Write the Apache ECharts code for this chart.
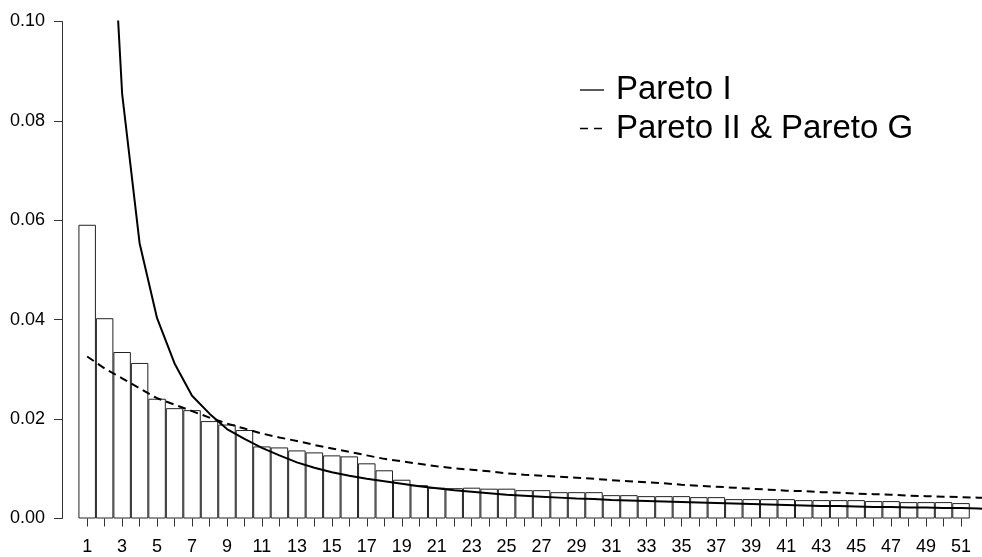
<!DOCTYPE html>
<html>
<head>
<meta charset="utf-8">
<script src="https://cdn.jsdelivr.net/npm/echarts@6/dist/echarts.min.js"></script>
<style>
  html, body { margin: 0; padding: 0; background: #fff; }
  #chart { width: 982px; height: 557px; }
</style>
</head>
<body>
<div id="chart"></div>
<script>
// Rank positions of the observed frequencies
const ranks = [1,2,3,4,5,6,7,8,9,10,11,12,13,14,15,16,17,18,19,20,21,22,23,24,25,26,
  27,28,29,30,31,32,33,34,35,36,37,38,39,40,41,42,43,44,45,46,47,48,49,50,51];

// Observed relative frequency per rank
const observed = [0.0591,0.0403,0.0335,0.0313,0.0241,0.0222,0.0218,0.0196,0.0189,0.0178,
  0.0145,0.0143,0.0137,0.0133,0.0127,0.0125,0.0111,0.0097,0.0078,0.0067,
  0.0062,0.0061,0.0062,0.0060,0.0060,0.0057,0.0057,0.0053,0.0053,0.0053,
  0.0047,0.0047,0.0045,0.0045,0.0045,0.0043,0.0043,0.0039,0.0039,0.0039,
  0.0039,0.0037,0.0037,0.0037,0.0037,0.0035,0.0035,0.0033,0.0033,0.0033,0.0031];

// Ranks at which the fitted curves are evaluated
const curveRanks = [1,2,3,4,5,6,7,8,9,10,11,12,13,14,15,16,17,18,19,20,21,22,23,24,25,26,
  27,28,29,30,31,32,33,34,35,36,37,38,39,40,41,42,43,44,45,46,47,48,49,50,51,52,53];

// Fitted Pareto I probabilities (rank 1 lies far above the plotted range)
const paretoI = [null,0.150,0.0855,0.0554,0.0403,0.0312,0.0247,0.0211,0.0180,0.0160,
  0.0142,0.0127,0.0113,0.0102,0.0093,0.0086,0.0080,0.0075,0.0070,0.0065,
  0.0061,0.0057,0.0054,0.0051,0.0048,0.0046,0.0044,0.0042,0.0040,0.0039,
  0.0037,0.0036,0.0035,0.0034,0.0033,0.0032,0.0031,0.0030,0.0029,0.0028,
  0.0027,0.0026,0.0025,0.0025,0.0024,0.0023,0.0023,0.0022,0.0022,0.0021,
  0.0021,0.0020,0.0019];

// Fitted Pareto II / Pareto G probabilities
const paretoII = [0.0326,0.0302,0.0282,0.0262,0.0242,0.0229,0.0216,0.0203,0.0191,0.0181,
  0.0171,0.0163,0.0156,0.0148,0.0141,0.0134,0.0127,0.0120,0.0115,0.0110,
  0.0105,0.0101,0.0098,0.0095,0.0091,0.0088,0.0086,0.0084,0.0082,0.0080,
  0.0077,0.0075,0.0073,0.0071,0.0068,0.0066,0.0064,0.0062,0.0060,0.0058,
  0.0056,0.0055,0.0053,0.0052,0.0050,0.0049,0.0048,0.0046,0.0045,0.0044,
  0.0043,0.0042,0.0041];

// Labelled ranks on the horizontal axis
const rankLabels = ranks.filter(k => k % 2 === 1);

const legendItems = [
  { name: 'Pareto I', dash: null },
  { name: 'Pareto II & Pareto G', dash: [8, 6] }
];

const chart = echarts.init(document.getElementById('chart'), null, { renderer: 'canvas' });

const textFont = '"Liberation Sans", Arial, Helvetica, sans-serif';

const legendGraphics = [];
legendItems.forEach((item, i) => {
  const cy = 90 + i * 38.5;
  legendGraphics.push({
    type: 'line',
    shape: { x1: 580, y1: cy, x2: 604, y2: cy },
    style: { stroke: '#000', lineWidth: 1.3, lineDash: item.dash }
  });
  legendGraphics.push({
    type: 'text',
    x: 616, y: cy,
    style: {
      text: item.name,
      font: '33px ' + textFont,
      fill: '#000',
      textVerticalAlign: 'middle',
      textAlign: 'left'
    }
  });
});

chart.setOption({
  animation: false,
  backgroundColor: '#fff',
  grid: {
    left: 62, right: 0, top: 21.5, bottom: 38.5,
    containLabel: false,
    outerBoundsMode: 'none'
  },
  xAxis: {
    type: 'value',
    min: -0.44,
    max: 52.2,
    splitLine: { show: false },
    axisLine: { show: false, onZero: false },
    axisTick: {
      show: true,
      customValues: ranks,
      length: 8,
      lineStyle: { color: '#333', width: 1 }
    },
    axisLabel: {
      customValues: rankLabels,
      color: '#000',
      fontSize: 18,
      fontFamily: textFont,
      margin: 20
    }
  },
  yAxis: {
    type: 'value',
    min: 0,
    max: 0.1,
    interval: 0.02,
    splitLine: { show: false },
    axisLine: { show: true, onZero: false, lineStyle: { color: '#333', width: 1 } },
    axisTick: { show: true, length: 8, lineStyle: { color: '#333', width: 1 } },
    axisLabel: {
      color: '#000',
      fontSize: 18,
      fontFamily: textFont,
      margin: 17,
      formatter: v => v.toFixed(2)
    }
  },
  series: [
    {
      name: 'Observed',
      type: 'bar',
      data: ranks.map((k, i) => [k, observed[i]]),
      barWidth: 17.48,
      itemStyle: { color: '#fff', borderColor: '#222', borderWidth: 1 },
      z: 1
    },
    {
      name: 'Pareto I',
      type: 'line',
      data: curveRanks.map((k, i) => [k, paretoI[i]]),
      showSymbol: false,
      symbol: 'none',
      clip: true,
      lineStyle: { color: '#000', width: 2 },
      z: 3
    },
    {
      name: 'Pareto II & Pareto G',
      type: 'line',
      data: curveRanks.map((k, i) => [k, paretoII[i]]),
      showSymbol: false,
      symbol: 'none',
      clip: true,
      lineStyle: { color: '#000', width: 2, type: [8, 5] },
      z: 3
    }
  ],
  graphic: legendGraphics
});
</script>
</body>
</html>
